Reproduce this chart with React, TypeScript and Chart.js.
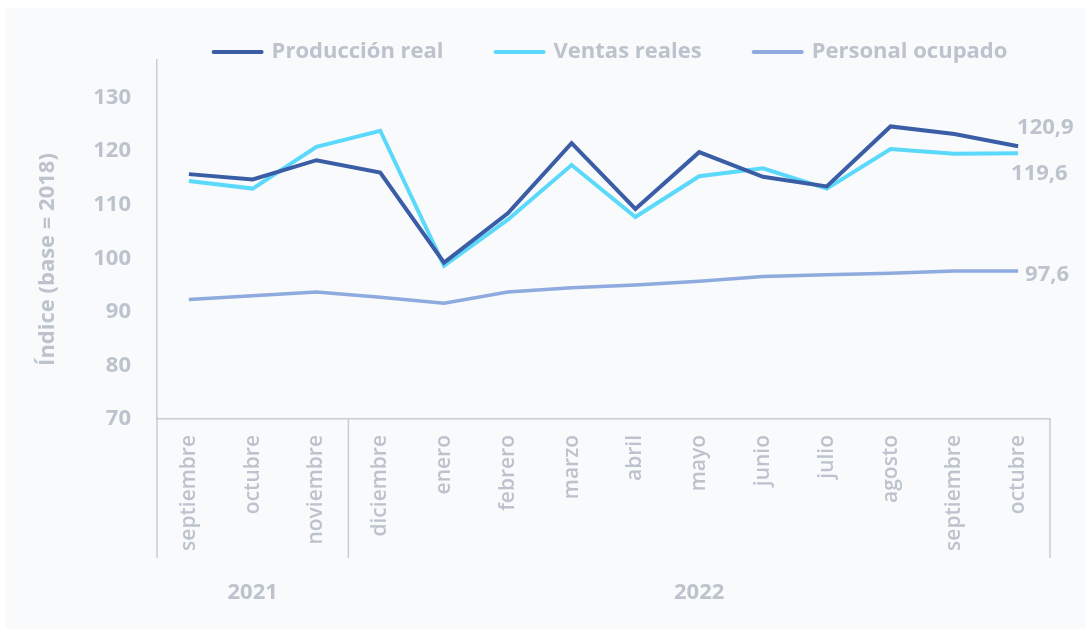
import React, { useEffect, useRef } from 'react';
import { Chart, registerables } from 'chart.js';

Chart.register(...registerables);

const months = ['septiembre', 'octubre', 'noviembre', 'diciembre', 'enero', 'febrero', 'marzo', 'abril', 'mayo', 'junio', 'julio', 'agosto', 'septiembre', 'octubre'];
const years = ['2021', '2022'];
const yearMonthCounts = [3, 11];
const produccionReal = [115.7, 114.7, 118.3, 116.0, 99.2, 108.4, 121.5, 109.2, 119.8, 115.2, 113.4, 124.6, 123.2, 120.9];
const ventasReales = [114.4, 113.0, 120.8, 123.8, 98.6, 107.2, 117.4, 107.7, 115.3, 116.8, 113.0, 120.4, 119.5, 119.6];
const personalOcupado = [92.3, 93.0, 93.7, 92.7, 91.6, 93.7, 94.5, 95.0, 95.7, 96.6, 96.9, 97.2, 97.6, 97.6];
const seriesNames = ['Producción real', 'Ventas reales', 'Personal ocupado'];
const seriesColors = ['#3B5DA6', '#5AD9FA', '#8EAADE'];
const endLabels = ['120,9', '119,6', '97,6'];
const yAxisTitle = 'Índice (base = 2018)';

const FONT = "'Open Sans', sans-serif";
const TEXT = '#BCC3CC';
const AXIS = '#C6CDD6';

const overlayPlugin = {
  id: 'overlay',
  afterDraw(chart: any) {
    const { ctx, chartArea } = chart;
    const xs = chart.scales.x;
    ctx.save();
    // group separators below axis
    ctx.strokeStyle = AXIS;
    ctx.lineWidth = 1.5;
    const bounds: number[] = [xs.left];
    let idx = 0;
    yearMonthCounts.forEach((n, i) => {
      idx += n;
      if (i < yearMonthCounts.length - 1) {
        bounds.push((xs.getPixelForValue(idx - 1) + xs.getPixelForValue(idx)) / 2);
      }
    });
    bounds.push(xs.right);
    bounds.forEach((bx) => {
      ctx.beginPath();
      ctx.moveTo(bx, chartArea.bottom);
      ctx.lineTo(bx, xs.bottom);
      ctx.stroke();
    });
    // year labels
    ctx.fillStyle = TEXT;
    ctx.font = `bold 22px ${FONT}`;
    ctx.textAlign = 'center';
    ctx.textBaseline = 'middle';
    years.forEach((y, i) => {
      ctx.fillText(y, (bounds[i] + bounds[i + 1]) / 2, xs.bottom + 35);
    });
    // y axis title
    ctx.save();
    ctx.translate(48, (chartArea.top + chartArea.bottom) / 2 + 20);
    ctx.rotate(-Math.PI / 2);
    ctx.font = `bold 22px ${FONT}`;
    ctx.fillText(yAxisTitle, 0, 0);
    ctx.restore();
    // end labels
    const offsets = [[-1, -19], [-7, 21], [7, 4]];
    ctx.font = `bold 22px ${FONT}`;
    ctx.textAlign = 'left';
    chart.data.datasets.forEach((ds: any, i: number) => {
      const meta = chart.getDatasetMeta(i);
      const pt = meta.data[meta.data.length - 1];
      ctx.fillText(endLabels[i], pt.x + offsets[i][0], pt.y + offsets[i][1]);
    });
    // legend
    ctx.font = `bold 22px ${FONT}`;
    const lineW = 52;
    const gap = 8;
    const spacing = 50;
    const widths = chart.data.datasets.map((ds: any) => lineW + gap + ctx.measureText(ds.label).width);
    const total = widths.reduce((a: number, b: number) => a + b, 0) + spacing * (widths.length - 1);
    let lx = (chartArea.left + chartArea.right) / 2 - total / 2 + 6;
    const ly = 52;
    chart.data.datasets.forEach((ds: any, i: number) => {
      ctx.strokeStyle = ds.borderColor;
      ctx.lineWidth = 4;
      ctx.lineCap = 'round';
      ctx.beginPath();
      ctx.moveTo(lx + 2, ly);
      ctx.lineTo(lx + lineW - 2, ly);
      ctx.stroke();
      ctx.fillStyle = TEXT;
      ctx.textBaseline = 'middle';
      ctx.fillText(ds.label, lx + lineW + gap, ly);
      lx += widths[i] + spacing;
    });
    ctx.restore();
  },
};

export default function App() {
  const ref = useRef<HTMLCanvasElement>(null);
  useEffect(() => {
    const series = [produccionReal, ventasReales, personalOcupado];
    const chart = new Chart(ref.current as HTMLCanvasElement, {
      type: 'line',
      data: {
        labels: months,
        datasets: series.map((d, i) => ({
          label: seriesNames[i],
          data: d,
          borderColor: seriesColors[i],
          backgroundColor: seriesColors[i],
          borderWidth: i === 2 ? 3.5 : 4,
          pointRadius: 0,
          tension: 0,
          fill: false,
        })),
      },
      options: {
        responsive: false,
        animation: false,
        layout: { padding: { left: 0, top: 60, right: 42, bottom: 77 } },
        plugins: { legend: { display: false }, tooltip: { enabled: false } },
        scales: {
          x: {
            offset: true,
            grid: { drawOnChartArea: false, drawTicks: false },
            border: { color: AXIS, width: 1.5 },
            ticks: {
              autoSkip: false,
              minRotation: 90,
              maxRotation: 90,
              padding: 16,
              color: TEXT,
              font: { family: FONT, size: 21, weight: 600 },
            },
            afterFit: (s: any) => { s.height = 139; },
          },
          y: {
            min: 70,
            max: 137,
            grid: { drawOnChartArea: false, drawTicks: false },
            border: { color: AXIS, width: 1.5 },
            ticks: {
              stepSize: 10,
              includeBounds: false,
              padding: 26,
              color: TEXT,
              font: { family: FONT, size: 22, weight: 'bold' },
            },
            afterFit: (s: any) => { s.width = 157; },
          },
        },
      },
      plugins: [overlayPlugin],
    });
    return () => chart.destroy();
  }, []);
  return (
    <div style={{ position: 'absolute', left: 0, top: 0, width: 1092, height: 635, background: '#FFFFFF' }}>
      <div style={{ position: 'absolute', left: 6, top: 8, width: 1080, height: 621, background: '#F8FAFC' }} />
      <canvas ref={ref} width={1092} height={635} style={{ position: 'absolute', left: 0, top: 0 }} />
    </div>
  );
}
